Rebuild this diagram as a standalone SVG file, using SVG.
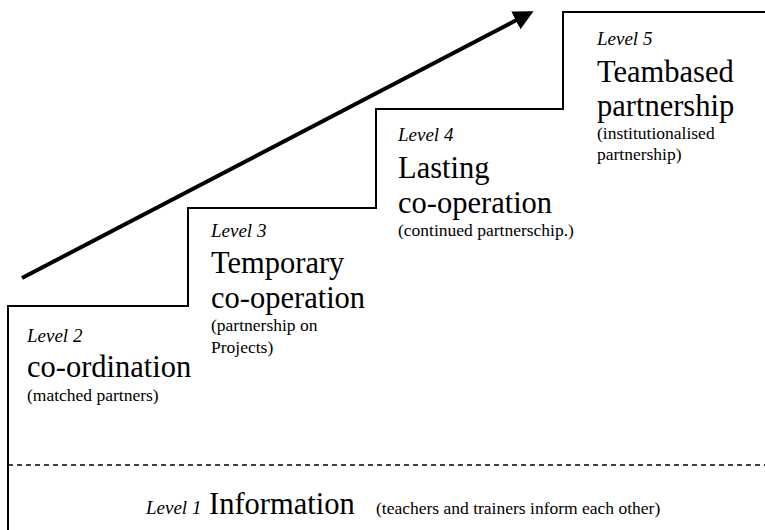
<svg xmlns="http://www.w3.org/2000/svg" width="765" height="530" viewBox="0 0 765 530">
<style>
  .lv { font-family: "Liberation Serif", "Times New Roman", serif; font-style: italic; font-size: 19px; fill: #000; }
  .big { font-family: "Liberation Serif", "Times New Roman", serif; font-size: 30.5px; fill: #000; }
  .sm { font-family: "Liberation Serif", "Times New Roman", serif; font-size: 17.5px; fill: #000; }
  .stair { fill: none; stroke: #000; stroke-width: 2; }
  .dash { fill: none; stroke: #000; stroke-width: 1.5; stroke-dasharray: 5 4; }
  .arrow { fill: none; stroke: #000; stroke-width: 4; }
</style>
<defs>
  <marker id="ah" markerWidth="5" markerHeight="5" refX="4" refY="2.5" orient="auto" markerUnits="strokeWidth">
    <path d="M0,0 L5,2.5 L0,5 Z" fill="#000"/>
  </marker>
</defs>
<rect width="765" height="530" fill="#fff"/>
<g id="connectors">
  <path class="stair" d="M8,530 V306 H188 V208 H376 V109 H563 V12 H765"/>
  <line class="dash" x1="8" y1="465" x2="765" y2="465"/>
  <line class="arrow" x1="22" y1="278" x2="530" y2="13" marker-end="url(#ah)"/>
</g>
<g id="level1">
  <text class="lv" x="146" y="514">Level 1</text>
  <text class="big" x="209" y="514">Information</text>
  <text class="sm" x="376" y="514">(teachers and trainers inform each other)</text>
</g>
<g id="level2">
  <text class="lv" x="27" y="342">Level 2</text>
  <text class="big" x="27" y="377">co-ordination</text>
  <text class="sm" x="27" y="401">(matched partners)</text>
</g>
<g id="level3">
  <text class="lv" x="211" y="237">Level 3</text>
  <text class="big" x="211" y="273">Temporary</text>
  <text class="big" x="211" y="308">co-operation</text>
  <text class="sm" x="211" y="331">(partnership on</text>
  <text class="sm" x="211" y="353">Projects)</text>
</g>
<g id="level4">
  <text class="lv" x="398" y="141">Level 4</text>
  <text class="big" x="398" y="178">Lasting</text>
  <text class="big" x="398" y="213">co-operation</text>
  <text class="sm" x="398" y="236">(continued partnerschip.)</text>
</g>
<g id="level5">
  <text class="lv" x="597" y="45">Level 5</text>
  <text class="big" x="597" y="82">Teambased</text>
  <text class="big" x="597" y="116">partnership</text>
  <text class="sm" x="597" y="139">(institutionalised</text>
  <text class="sm" x="597" y="160">partnership)</text>
</g>
</svg>
